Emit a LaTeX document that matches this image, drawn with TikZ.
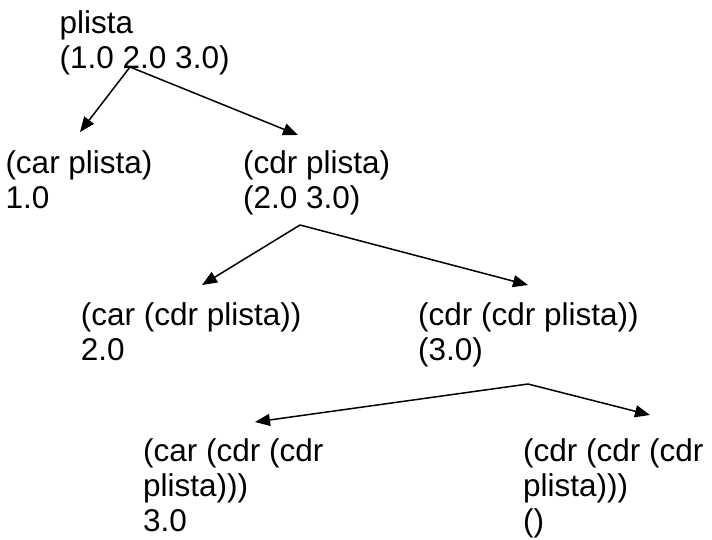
\documentclass[tikz,border=0pt]{standalone}
\usepackage{fontspec}
\setmainfont{Liberation Sans}
\usetikzlibrary{arrows.meta}

\newcommand{\exprfont}{\fontsize{31.5}{35}\selectfont}

\begin{document}
\begin{tikzpicture}[x=1pt, y=-1pt, >={Triangle[length=15pt,width=12pt]}]
  \tikzstyle{expr} = [anchor=base west, align=left, inner sep=0pt, font=\exprfont]
  \tikzstyle{link} = [->, line width=1.5pt]

  \useasboundingbox (0,0) rectangle (712,539);

  % Expressions (placed at the baseline of their last line)
  \node[expr] (plista) at (59.5,68) {plista\\(1.0 2.0 3.0)};
  \node[expr] (car1) at (5.3,208) {(car plista)\\1.0};
  \node[expr] (cdr1) at (243,208) {(cdr plista)\\(2.0 3.0)};
  \node[expr] (car2) at (80.7,360) {(car (cdr plista))\\2.0};
  \node[expr] (cdr2) at (418,360) {(cdr (cdr plista))\\(3.0)};
  \node[expr] (car3) at (143,531.7) {(car (cdr (cdr\\plista)))\\3.0};
  \node[expr] (cdr3) at (523,531.7) {(cdr (cdr (cdr\\plista)))\\()};

  % Fork points and arrow tips
  \foreach \name / \x / \y in {fork0/130/67, tipcar1/80/132, tipcdr1/298/135,
                               fork1/300/225, tipcar2/202/285, tipcdr2/528/285,
                               fork2/528/384, tipcar3/255/422, tipcdr3/650/415}
    \coordinate (\name) at (\x,\y);

  % Arrows
  \draw[link] (fork0) -- (tipcar1);
  \draw[link] (fork0) -- (tipcdr1);
  \draw[link] (fork1) -- (tipcar2);
  \draw[link] (fork1) -- (tipcdr2);
  \draw[link] (fork2) -- (tipcar3);
  \draw[link] (fork2) -- (tipcdr3);

\end{tikzpicture}
\end{document}
